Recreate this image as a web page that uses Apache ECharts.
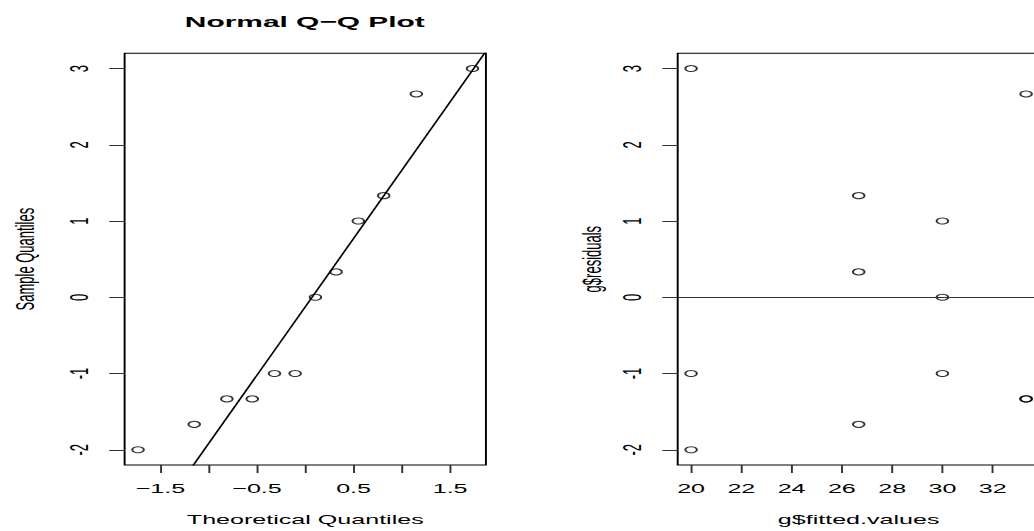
<!DOCTYPE html>
<html>
<head>
<meta charset="utf-8">
<script src="https://cdn.jsdelivr.net/npm/echarts@6/dist/echarts.min.js"></script>
<style>
    html, body { margin: 0; padding: 0; background: #fff; overflow: hidden; }
    /* R device was drawn narrow then stretched sideways */
    #cn { width: 536px; height: 531px; transform: scaleX(1.9291); transform-origin: 0 0; }
</style>
</head>
<body>
<div id="cn"></div>
<script>
'use strict';

// qq plot
const theoQ = [-1.732, -1.150, -0.812, -0.549, -0.319, -0.105, 0.105, 0.319, 0.549, 0.812, 1.150, 1.732];
const sampleQ = [-2, -1.667, -1.333, -1.333, -1, -1, 0, 0.333, 1, 1.333, 2.667, 3];
const qqLine = [[-1.871, -3.477], [1.871, 3.227]];

// residuals vs fitted
const fitted = [20, 20, 20, 26.67, 26.67, 26.67, 30, 30, 30, 33.33, 33.33, 33.33];
const resid = [3, -1, -2, 1.333, 0.333, -1.667, 1, 0, -1, 2.667, -1.333, -1.333];

// ticks
const yTicks = [-2, -1, 0, 1, 2, 3];
const qqTicks = [-1.5, -1, -0.5, 0, 0.5, 1, 1.5];
const qqLabels = [-1.5, -0.5, 0.5, 1.5];
const fitTicks = [20, 22, 24, 26, 28, 30, 32];

const FONT = 'Liberation Sans';

const xAx = (idx, min, max, ticks, labels, name, fmt) => ({
    type: 'value',
    gridIndex: idx,
    min: min,
    max: max,
    splitLine: { show: false },
    axisLine: { show: false, onZero: false },
    axisTick: { show: true, length: 8, customValues: ticks, lineStyle: { color: '#333' } },
    axisLabel: {
        customValues: labels,
        margin: 17,
        color: '#000',
        fontFamily: FONT,
        fontSize: 13,
        formatter: fmt
    },
    name: name,
    nameLocation: 'middle',
    nameGap: 48,
    nameTextStyle: { color: '#000', fontFamily: FONT, fontSize: 13 }
});

const yAx = (idx, name, gap) => ({
    type: 'value',
    gridIndex: idx,
    min: -2.2,
    max: 3.2,
    splitLine: { show: false },
    axisLine: { show: false, onZero: false },
    axisTick: { show: true, length: 8, customValues: yTicks, lineStyle: { color: '#333' } },
    axisLabel: {
        customValues: yTicks,
        rotate: 90,
        margin: 17,
        color: '#000',
        fontFamily: FONT,
        fontSize: 13
    },
    name: name,
    nameLocation: 'middle',
    nameRotate: 90,
    nameGap: gap,
    nameTextStyle: { color: '#000', fontFamily: FONT, fontSize: 13 }
});

const dotStyle = {
    color: 'rgba(0,0,0,0)',
    borderColor: '#000',
    borderWidth: 1
};

function _zip(a, b) {
    return a.map((v, i) => [v, b[i]]);
}

const chart = echarts.init(document.getElementById('cn'), null, { renderer: 'svg' });

let option = {
    animation: false,
    backgroundColor: '#fff',
    title: {
        text: 'Normal Q\u2212Q Plot',
        left: 153,
        top: 8,
        textAlign: 'center',
        textStyle: { fontFamily: FONT, fontSize: 15.5, fontWeight: 'bold', color: '#000' }
    },
    grid: [
        { left: 64.6, top: 53.3, width: 187.3, height: 411.7, show: true, borderColor: '#000', borderWidth: 1, outerBoundsMode: 'none' },
        { left: 351.3, top: 53.3, width: 187.6, height: 411.7, show: true, borderColor: '#000', borderWidth: 1, outerBoundsMode: 'none' }
    ],
    xAxis: [
        xAx(0, -1.871, 1.871, qqTicks, qqLabels, 'Theoretical Quantiles',
            v => (v < 0 ? '\u2212' : '') + Math.abs(v).toFixed(1)),
        xAx(1, 19.467, 33.867, fitTicks, fitTicks, 'g$fitted.values', v => String(v))
    ],
    yAxis: [
        yAx(0, 'Sample Quantiles', 45),
        yAx(1, 'g$residuals', 38)
    ],
    series: [
        {
            type: 'line',
            xAxisIndex: 0,
            yAxisIndex: 0,
            data: qqLine,
            clip: true,
            symbol: 'none',
            lineStyle: { color: '#000', width: 1 },
            silent: true
        },
        {
            type: 'scatter',
            xAxisIndex: 0,
            yAxisIndex: 0,
            data: _zip(theoQ, sampleQ),
            symbol: 'circle',
            symbolSize: 6,
            itemStyle: dotStyle
        },
        {
            type: 'scatter',
            xAxisIndex: 1,
            yAxisIndex: 1,
            data: _zip(fitted, resid),
            symbol: 'circle',
            symbolSize: 6,
            itemStyle: dotStyle,
            markLine: {
                silent: true,
                symbol: 'none',
                label: { show: false },
                lineStyle: { color: '#333', width: 1, type: 'solid' },
                data: [{ yAxis: 0 }]
            }
        }
    ]
};

chart.setOption(option);
</script>
</body>
</html>
